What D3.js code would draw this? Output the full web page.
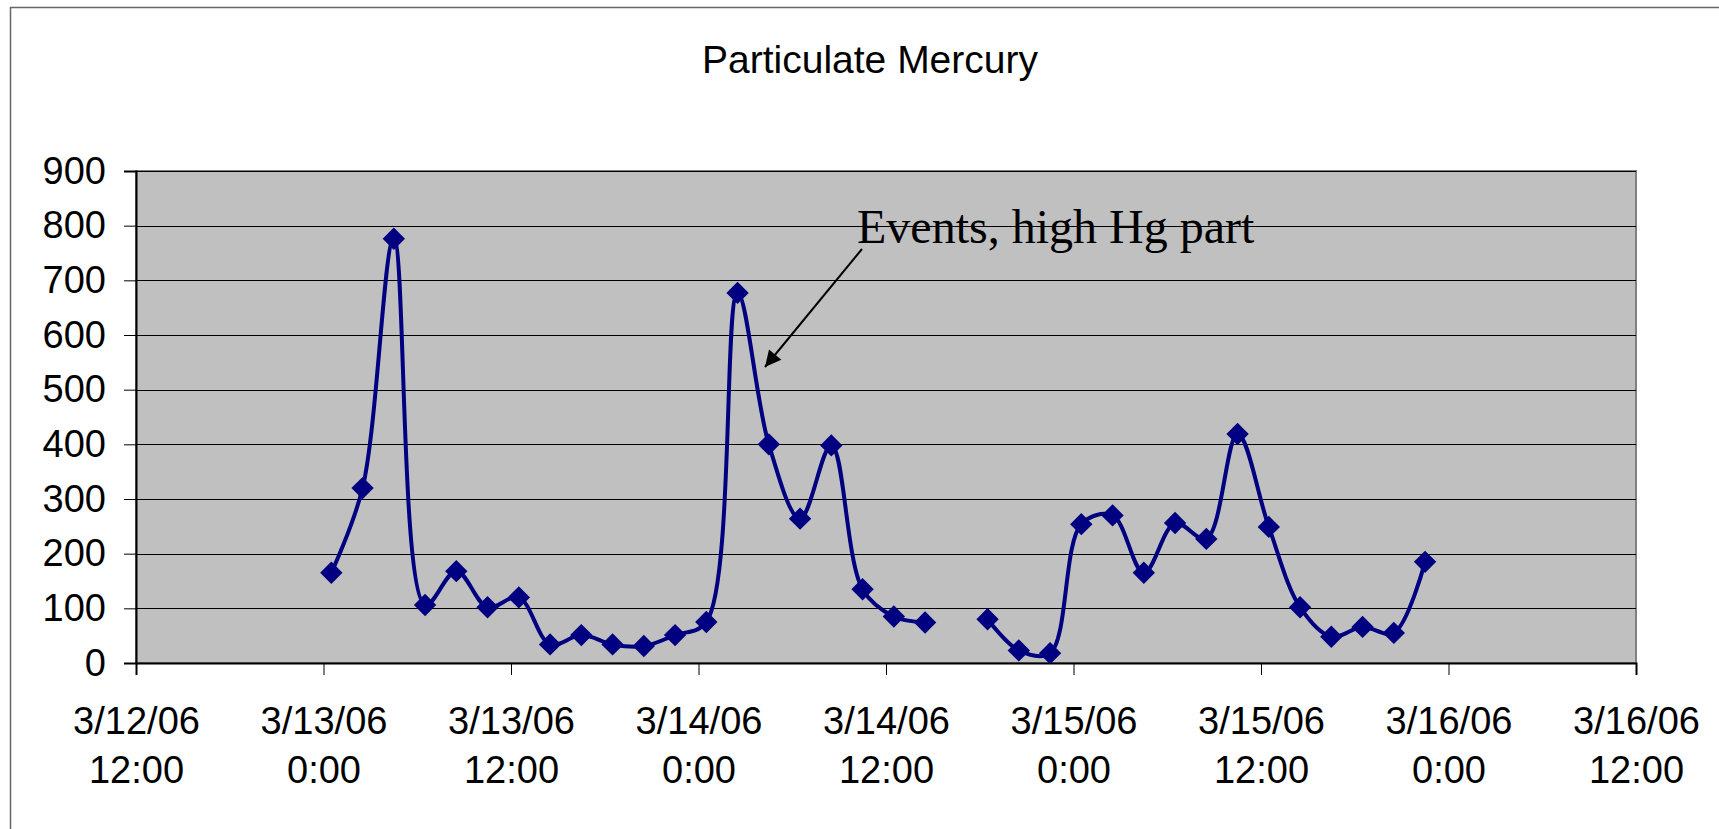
<!DOCTYPE html>
<html>
<head>
<meta charset="utf-8">
<script src="https://cdn.jsdelivr.net/npm/d3@7"></script>
<style>
    body { margin: 0; background: #fff; }
    svg { display: block; }
</style>
</head>
<body>
<div id="chart"></div>
<script>
// readings: particulate Hg, one sample every 2 hours starting 3/13/06 0:30
const startTime = new Date(2006, 2, 13, 0, 30);
const stepHours = 2;
const hgValues = [165, 320, 776, 106, 168, 102, 120, 34, 51, 34,
                  31, 51, 75, 677, 400, 264, 398, 135, 85, 74,
                  null,
                  80, 23, 18, 254, 270, 165, 256, 227, 419, 249,
                  102, 48, 66, 55, 185];
const yTicks = [0, 100, 200, 300, 400, 500, 600, 700, 800, 900];
const xDomain = [new Date(2006, 2, 12, 12), new Date(2006, 2, 16, 12)];
const chartTitle = "Particulate Mercury";
const noteText = "Events, high Hg part";

const width = 1719, height = 829;
const plot = { left: 136, right: 1636, top: 171, bottom: 663 };

const data = hgValues.map((v, i) => ({
    time: new Date(startTime.getTime() + i * stepHours * 3600 * 1000),
    value: v
}));

const svg = d3.select("#chart").append("svg")
    .attr("width", width)
    .attr("height", height);

svg.append("rect")
    .attr("width", width).attr("height", height)
    .attr("fill", "#fff");

// chart area border (runs off the right/bottom edge)
svg.append("rect")
    .attr("x", 10.5).attr("y", 7.5)
    .attr("width", 2000).attr("height", 2000)
    .attr("fill", "none")
    .attr("stroke", "#666")
    .attr("stroke-width", 1.5);

const x = d3.scaleTime().domain(xDomain).range([plot.left, plot.right]);
const y = d3.scaleLinear().domain([0, 900]).range([plot.bottom, plot.top]);

// plot background
svg.append("rect")
    .attr("x", plot.left).attr("y", plot.top)
    .attr("width", plot.right - plot.left)
    .attr("height", plot.bottom - plot.top)
    .attr("fill", "#c0c0c0")
    .attr("stroke", "#808080")
    .attr("stroke-width", 2);

// gridlines
svg.append("g")
    .selectAll("line")
    .data(yTicks.filter(d => d > 0))
    .join("line")
    .attr("x1", plot.left).attr("x2", plot.right)
    .attr("y1", d => Math.round(y(d)) + 0.5)
    .attr("y2", d => Math.round(y(d)) + 0.5)
    .attr("stroke", "#000")
    .attr("stroke-width", 1);

// y axis
const yAxis = svg.append("g")
    .attr("transform", `translate(${plot.left},0)`)
    .call(d3.axisLeft(y).tickValues(yTicks).tickSize(12).tickPadding(18));
yAxis.select(".domain").attr("stroke", "#000").attr("stroke-width", 2);
yAxis.selectAll(".tick line").attr("stroke", "#000");
yAxis.selectAll("text")
    .attr("font-family", "Liberation Sans, Arial, sans-serif")
    .attr("font-size", 38)
    .attr("fill", "#000");

// x axis
const fmtDate = d3.timeFormat("%-m/%-d/%y");
const fmtTime = d3.timeFormat("%-H:%M");
const xAxis = svg.append("g")
    .attr("transform", `translate(0,${plot.bottom})`)
    .call(d3.axisBottom(x).ticks(d3.timeHour.every(12)).tickSize(12).tickFormat(""));
xAxis.select(".domain").attr("stroke", "#000").attr("stroke-width", 2);
xAxis.selectAll(".tick line").attr("stroke", "#000");
xAxis.selectAll(".tick text").remove();
const xLabels = xAxis.selectAll(".tick").append("text")
    .attr("text-anchor", "middle")
    .attr("font-family", "Liberation Sans, Arial, sans-serif")
    .attr("font-size", 38)
    .attr("fill", "#000");
xLabels.append("tspan").attr("x", 0).attr("y", 71).text(d => fmtDate(d));
xLabels.append("tspan").attr("x", 0).attr("y", 120).text(d => fmtTime(d));

// the series, smoothed like the spreadsheet's line
const line = d3.line()
    .defined(d => d.value !== null)
    .x(d => x(d.time))
    .y(d => y(d.value))
    .curve(d3.curveCatmullRom.alpha(0.5));

svg.append("path")
    .datum(data)
    .attr("fill", "none")
    .attr("stroke", "#000080")
    .attr("stroke-width", 4)
    .attr("d", line);

const diamond = d3.symbol().type(d3.symbolSquare).size(250);
svg.append("g")
    .selectAll("path")
    .data(data.filter(d => d.value !== null))
    .join("path")
    .attr("d", diamond)
    .attr("transform", d => `translate(${x(d.time)},${y(d.value)}) rotate(45)`)
    .attr("fill", "#000080");

// title
svg.append("text")
    .attr("x", 870).attr("y", 73)
    .attr("text-anchor", "middle")
    .attr("font-family", "Liberation Sans, Arial, sans-serif")
    .attr("font-size", 39)
    .attr("fill", "#000")
    .text(chartTitle);

// annotation with arrow
svg.append("defs").append("marker")
    .attr("id", "arrow")
    .attr("viewBox", "0 0 10 10")
    .attr("refX", 10).attr("refY", 5)
    .attr("markerWidth", 20).attr("markerHeight", 16)
    .attr("markerUnits", "userSpaceOnUse")
    .attr("orient", "auto")
    .append("path")
    .attr("d", "M0,0 L10,5 L0,10 Z")
    .attr("fill", "#000");

svg.append("line")
    .attr("x1", 862).attr("y1", 249)
    .attr("x2", 765).attr("y2", 367)
    .attr("stroke", "#000")
    .attr("stroke-width", 2)
    .attr("marker-end", "url(#arrow)");

svg.append("text")
    .attr("x", 857).attr("y", 243)
    .attr("font-family", "Liberation Serif, Times New Roman, serif")
    .attr("font-size", 48)
    .attr("fill", "#000")
    .text(noteText);
</script>
</body>
</html>
